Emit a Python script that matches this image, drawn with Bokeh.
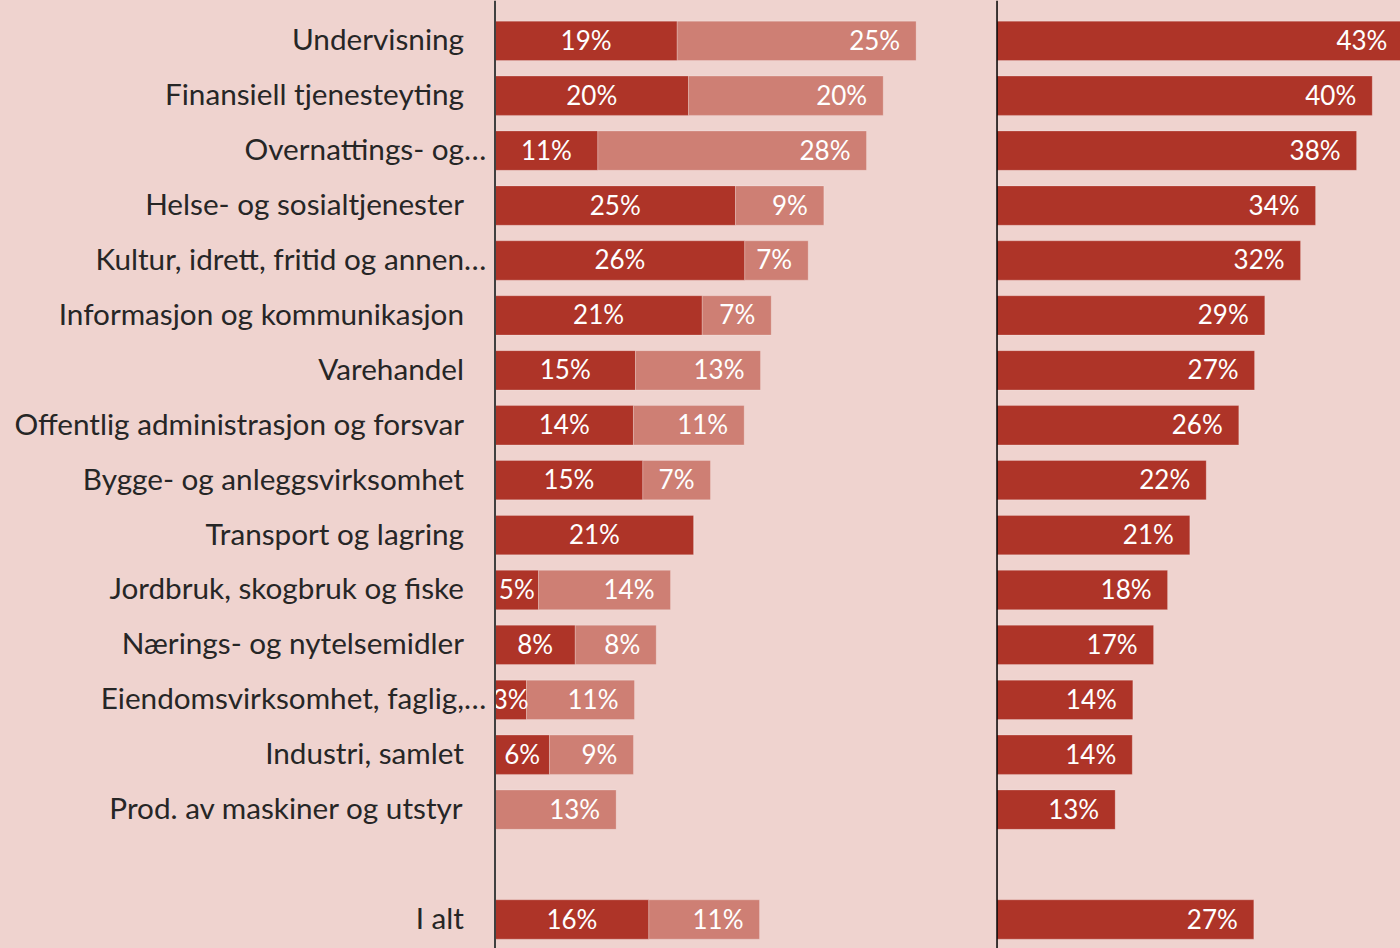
from bokeh.plotting import figure
from bokeh.models import Range1d, Span, ColumnDataSource
from bokeh.core.properties import value
from bokeh.embed import file_html
from bokeh.resources import INLINE

# ---------------- data ----------------
industries = [
    "Undervisning",
    "Finansiell tjenesteyting",
    "Overnattings- og…",
    "Helse- og sosialtjenester",
    "Kultur, idrett, fritid og annen…",
    "Informasjon og kommunikasjon",
    "Varehandel",
    "Offentlig administrasjon og forsvar",
    "Bygge- og anleggsvirksomhet",
    "Transport og lagring",
    "Jordbruk, skogbruk og fiske",
    "Nærings- og nytelsemidler",
    "Eiendomsvirksomhet, faglig,…",
    "Industri, samlet",
    "Prod. av maskiner og utstyr",
]
total_label = "I alt"

# left panel, stacked (dark part, light part), in percent
series_dark = [18.87, 20.04, 10.65, 24.91, 25.87, 21.46, 14.55, 14.34, 15.31, 20.59,
               4.51, 8.31, 3.26, 5.64, 0.0, 15.93]
series_light = [24.75, 20.17, 27.83, 9.15, 6.57, 7.15, 12.95, 11.47, 7.01, 0.0,
                13.67, 8.39, 11.19, 8.70, 12.55, 11.47]
# right panel, in percent
series_total = [43.3, 39.98, 38.31, 33.94, 32.34, 28.53, 27.44, 25.76, 22.29, 20.54,
                18.17, 16.68, 14.47, 14.41, 12.59, 27.36]

labels = industries + [total_label]
# one empty slot before "I alt"
row_pos = list(range(len(industries))) + [len(industries) + 1]

# ---------------- style ----------------
BG = "#EFD3CF"
DARK = "#AE3428"
LIGHT = "#CE7F74"
TXT = "#262626"
FONT = value("Lato")

W, H = 1400, 948
p = figure(width=W, height=H, output_backend="svg", toolbar_location=None,
           x_axis_location=None, y_axis_location=None,
           x_range=Range1d(-51.22, 93.79), y_range=Range1d(16.528, -0.734),
           min_border=0, min_border_left=0, min_border_right=0,
           min_border_top=0, min_border_bottom=0)
p.extra_x_ranges = {"right": Range1d(-106.18, 42.99)}
p.background_fill_color = BG
p.border_fill_color = BG
p.outline_line_color = None
p.xgrid.visible = False
p.ygrid.visible = False

BAR_H = 0.716

lend = [d + l for d, l in zip(series_dark, series_light)]
src_left = ColumnDataSource(dict(
    y=row_pos, zero=[0.0] * len(row_pos), dark=series_dark, light_end=lend,
))
p.hbar(y="y", left="zero", right="dark", height=BAR_H, source=src_left,
       fill_color=DARK, line_color="white", line_alpha=0.22, line_width=1)
p.hbar(y="y", left="dark", right="light_end", height=BAR_H, source=src_left,
       fill_color=LIGHT, line_color="white", line_alpha=0.22, line_width=1)

src_right = ColumnDataSource(dict(y=row_pos, zero=[0.0] * len(row_pos), total=series_total))
p.hbar(y="y", left="zero", right="total", height=BAR_H, source=src_right,
       x_range_name="right", fill_color=DARK, line_color="white", line_alpha=0.22,
       line_width=1)

# axis lines
p.add_layout(Span(location=0, dimension="height", line_color="#404040", line_width=2))
p.add_layout(Span(location=0, dimension="height", line_color="#000000", line_width=1.5,
                  x_range_name="right"))

# value labels
VAL_SIZE = "26px"
dk = [(y, d) for y, d in zip(row_pos, series_dark) if d > 0]
p.text(x=[d / 2 for _, d in dk], y=[y for y, _ in dk],
       text=[f"{round(d)}%" for _, d in dk], y_offset=-1,
       text_align="center", text_baseline="middle", text_color="white",
       text_font=FONT, text_font_size=VAL_SIZE)
lt = [(y, d, l) for y, d, l in zip(row_pos, series_dark, series_light) if l > 0]
p.text(x=[d + l for _, d, l in lt], y=[y for y, _, _ in lt],
       text=[f"{round(l)}%" for _, _, l in lt], x_offset=-16, y_offset=-1,
       text_align="right", text_baseline="middle", text_color="white",
       text_font=FONT, text_font_size=VAL_SIZE)
p.text(x=series_total, y=row_pos, text=[f"{round(t)}%" for t in series_total],
       x_offset=-16, y_offset=-1, x_range_name="right",
       text_align="right", text_baseline="middle", text_color="white",
       text_font=FONT, text_font_size=VAL_SIZE)

# category labels (ellipsis overflows past the right alignment edge)
CAT_SIZE = "29.7px"
main = [s[:-1] if s.endswith("…") else s for s in labels]
p.text(x=[0.0] * len(labels), y=row_pos, text=main, x_offset=-31, y_offset=-2,
       text_align="right", text_baseline="middle", text_color=TXT,
       text_font=FONT, text_font_size=CAT_SIZE)
ell = [(y, "…") for y, s in zip(row_pos, labels) if s.endswith("…")]
p.text(x=[0.0] * len(ell), y=[y for y, _ in ell], text=[t for _, t in ell],
       x_offset=-31, y_offset=-2,
       text_align="left", text_baseline="middle", text_color=TXT,
       text_font=FONT, text_font_size=CAT_SIZE)

html = file_html(p, INLINE)
html = html.replace("</head>", "<style>html,body{background:%s;}</style></head>" % BG, 1)
open("out.html", "w").write(html)
